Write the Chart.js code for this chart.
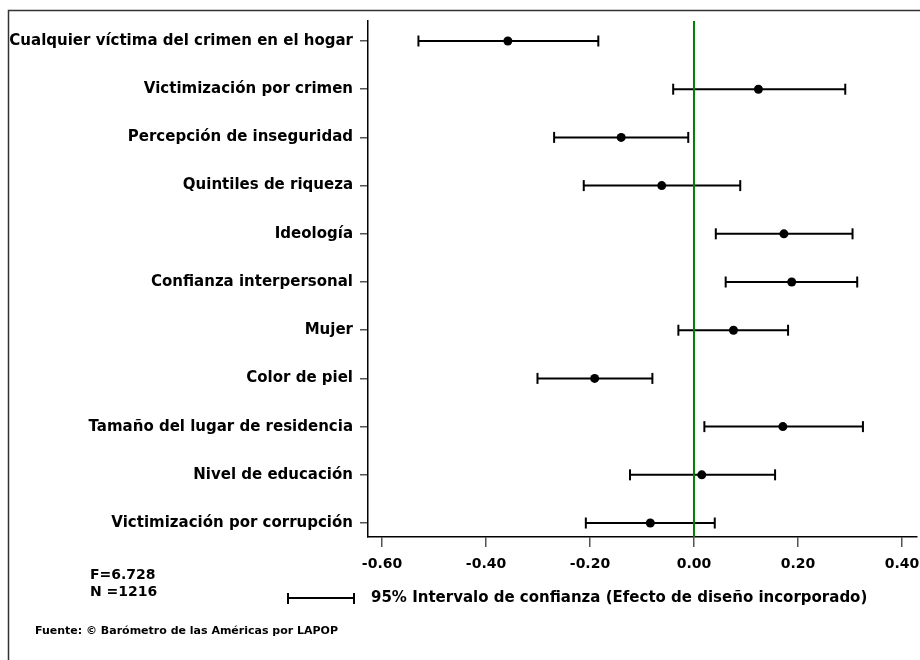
<!DOCTYPE html>
<html>
<head>
<meta charset="utf-8">
<script src="https://cdn.jsdelivr.net/npm/chart.js@4.4.1/dist/chart.umd.min.js"></script>
<style>
  html, body { margin: 0; padding: 0; background: #fff; }
  #wrap { width: 920px; height: 660px; position: relative; }
</style>
</head>
<body>
<div id="wrap"><canvas id="c" width="920" height="660"></canvas></div>
<script>
const categories = [
  'Cualquier víctima del crimen en el hogar',
  'Victimización por crimen',
  'Percepción de inseguridad',
  'Quintiles de riqueza',
  'Ideología',
  'Confianza interpersonal',
  'Mujer',
  'Color de piel',
  'Tamaño del lugar de residencia',
  'Nivel de educación',
  'Victimización por corrupción'
];
const estimates = [-0.358, 0.124, -0.140, -0.062, 0.173, 0.188, 0.076, -0.191, 0.171, 0.015, -0.084];
const lowerCI   = [-0.530, -0.040, -0.269, -0.212, 0.042, 0.061, -0.030, -0.301, 0.020, -0.123, -0.208];
const upperCI   = [-0.184, 0.291, -0.011, 0.089, 0.305, 0.314, 0.181, -0.080, 0.325, 0.156, 0.040];
const xTickValues = [-0.6, -0.4, -0.2, 0, 0.2, 0.4];
const xTickLabels = ['-0.60', '-0.40', '-0.20', '0.00', '0.20', '0.40'];
const referenceValue = 0;
const statsLines = ['F=6.728', 'N =1216'];
const legendText = '95% Intervalo de confianza (Efecto de diseño incorporado)';
const sourceText = 'Fuente: © Barómetro de las Américas por LAPOP';

const FONT = '"DejaVu Sans", Verdana, sans-serif';
const Y_MIN = -0.415, Y_MAX = 10.29;

// error-bar segments
const ciPoints = [];
categories.forEach((_, i) => {
  ciPoints.push({ x: lowerCI[i], y: i });
  ciPoints.push({ x: upperCI[i], y: i });
  ciPoints.push({ x: null, y: null });
});
const estPoints = categories.map((_, i) => ({ x: estimates[i], y: i }));
const refPoints = [{ x: referenceValue, y: Y_MIN }, { x: referenceValue, y: Y_MAX }];

const annotations = {
  id: 'annotations',
  afterDraw(chart) {
    const ctx = chart.ctx;
    ctx.save();
    // outer frame
    ctx.strokeStyle = '#333';
    ctx.lineWidth = 1.5;
    ctx.beginPath();
    ctx.moveTo(8.5, 662);
    ctx.lineTo(8.5, 10.5);
    ctx.lineTo(922, 10.5);
    ctx.stroke();

    ctx.fillStyle = '#000';
    ctx.textBaseline = 'middle';
    ctx.textAlign = 'left';
    ctx.font = 'bold 14px ' + FONT;
    ctx.fillText(statsLines[0], 90, 575);
    ctx.fillText(statsLines[1], 90, 592);

    // legend whisker
    ctx.strokeStyle = '#000';
    ctx.lineWidth = 2;
    ctx.beginPath();
    ctx.moveTo(288, 598); ctx.lineTo(354, 598);
    ctx.moveTo(288, 593); ctx.lineTo(288, 604);
    ctx.moveTo(354, 593); ctx.lineTo(354, 604);
    ctx.stroke();
    ctx.font = 'bold 15px ' + FONT;
    ctx.fillText(legendText, 371, 598);

    ctx.font = 'bold 11px ' + FONT;
    ctx.fillText(sourceText, 35, 631);
    ctx.restore();
  }
};

new Chart(document.getElementById('c'), {
  type: 'scatter',
  data: {
    datasets: [
      {
        label: 'IC 95%',
        data: ciPoints,
        showLine: true,
        spanGaps: false,
        borderColor: '#000',
        borderWidth: 2,
        pointStyle: 'line',
        pointRotation: 90,
        pointRadius: 5.5,
        pointBorderWidth: 2,
        pointBorderColor: '#000',
        order: 3
      },
      {
        label: 'ref',
        data: refPoints,
        showLine: true,
        borderColor: '#008000',
        borderWidth: 2,
        pointRadius: 0,
        order: 2
      },
      {
        label: 'Coeficiente',
        data: estPoints,
        backgroundColor: '#000',
        borderColor: '#000',
        pointRadius: 4.5,
        pointBorderWidth: 0,
        order: 1
      }
    ]
  },
  plugins: [annotations],
  options: {
    responsive: false,
    animation: false,
    events: [],
    layout: { autoPadding: false, padding: { left: 0, right: 3, top: 21, bottom: 0 } },
    plugins: { legend: { display: false }, tooltip: { enabled: false } },
    scales: {
      x: {
        type: 'linear',
        min: -0.627,
        max: 0.429,
        afterBuildTicks(s) { s.ticks = xTickValues.map(v => ({ value: v })); },
        afterFit(s) { s.height = 123; s.paddingLeft = 0; s.paddingRight = 0; },
        ticks: {
          autoSkip: false,
          maxRotation: 0,
          padding: 9,
          color: '#000',
          font: { family: FONT, size: 14, weight: 'bold' },
          callback(v) { return xTickLabels[xTickValues.findIndex(t => Math.abs(t - v) < 1e-9)]; }
        },
        grid: { display: true, drawOnChartArea: false, drawTicks: true, tickLength: 10, color: '#555', lineWidth: 1.5 },
        border: { display: true, color: '#000', width: 1.5 }
      },
      y: {
        type: 'linear',
        reverse: true,
        min: Y_MIN,
        max: Y_MAX,
        afterBuildTicks(s) { s.ticks = categories.map((_, i) => ({ value: i })); },
        afterFit(s) { s.width = 368; s.paddingTop = 0; s.paddingBottom = 0; s.paddingLeft = 0; s.paddingRight = 0; },
        ticks: {
          autoSkip: false,
          padding: 7,
          color: '#000',
          font: { family: FONT, size: 15, weight: 'bold' },
          callback(v) { return categories[Math.round(v)]; }
        },
        grid: { display: true, drawOnChartArea: false, drawTicks: true, tickLength: 8, color: '#555', lineWidth: 1.5 },
        border: { display: true, color: '#000', width: 1.5 }
      }
    }
  }
});
</script>
</body>
</html>
